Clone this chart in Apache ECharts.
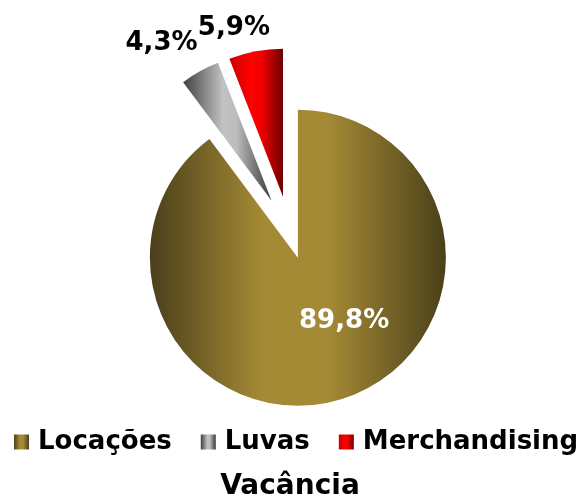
<!DOCTYPE html>
<html>
<head>
<meta charset="utf-8">
<script src="https://cdn.jsdelivr.net/npm/echarts@6/dist/echarts.min.js"></script>
<style>
  html, body { margin: 0; padding: 0; background: #fff; }
  #chart { width: 580px; height: 501px; }
</style>
</head>
<body>
<div id="chart"></div>
<script>
// dados
var categories = ['Locações', 'Luvas', 'Merchandising'];
var values = [89.8, 4.3, 5.9];
var titleText = 'Vacância';

var FONT = '"DejaVu Sans", sans-serif';

function grad(stops) {
    return new echarts.graphic.LinearGradient(0, 0, 1, 0, stops);
}
var colors = [
    grad([{offset: 0, color: '#4a3f1a'}, {offset: 0.38, color: '#a58a35'}, {offset: 0.6, color: '#a58a35'}, {offset: 1, color: '#4a3f1a'}]),
    grad([{offset: 0, color: '#404040'}, {offset: 0.45, color: '#c2c2c2'}, {offset: 0.6, color: '#bdbdbd'}, {offset: 1, color: '#3a3a3a'}]),
    grad([{offset: 0, color: '#c80000'}, {offset: 0.4, color: '#ff0000'}, {offset: 0.6, color: '#f00000'}, {offset: 1, color: '#6e0000'}])
];

function fmt(v) {
    return v.toFixed(1).replace('.', ',') + '%';
}

// deslocamento dos rótulos (dx, dy)
var labelShift = [[22, -10], [10, -15], [22, -8]];

// visible = indices drawn by this series, the rest stay transparent
function buildData(visible) {
    var out = [];
    for (var i = 0; i < categories.length; i++) {
        var on = visible.indexOf(i) >= 0;
        out.push({
            name: categories[i],
            value: values[i],
            selected: on,
            itemStyle: {color: on ? colors[i] : 'rgba(0,0,0,0)', borderWidth: 0},
            label: {
                show: on,
                position: i === 0 ? 'inside' : 'outside',
                color: i === 0 ? '#fff' : '#000'
            }
        });
    }
    return out;
}

var chart = echarts.init(document.getElementById('chart'));

function pieSeries(visible, offset) {
    return {
        type: 'pie',
        center: [290, 234],
        radius: 148,
        startAngle: 90,
        selectedMode: 'multiple',
        selectedOffset: offset,
        avoidLabelOverlap: false,
        animation: false,
        emphasis: {disabled: true},
        label: {
            formatter: function (p) { return fmt(p.value); },
            fontFamily: FONT,
            fontWeight: 'bold',
            fontSize: 26
        },
        labelLine: {show: false, length: 15, length2: 0},
        labelLayout: function (p) {
            var s = labelShift[p.dataIndex];
            return {dx: s[0], dy: s[1], hideOverlap: false};
        },
        data: buildData(visible)
    };
}

chart.setOption({
    title: {
        text: titleText,
        left: 'center',
        top: 468,
        textStyle: {fontFamily: FONT, fontWeight: 'bold', fontSize: 28, color: '#000'}
    },
    legend: {
        left: 14,
        top: 429,
        width: 566,
        padding: 0,
        icon: 'rect',
        itemWidth: 15,
        itemHeight: 15,
        itemGap: 29,
        selectedMode: false,
        textStyle: {fontFamily: FONT, fontWeight: 'bold', fontSize: 26, color: '#000', padding: [0, 0, 0, 4]},
        data: categories.map(function (c, i) {
            return {name: c, itemStyle: {color: colors[i], borderWidth: 0}};
        })
    },
    series: [
        pieSeries([0], 25),
        pieSeries([1, 2], 38)
    ]
});
</script>
</body>
</html>
